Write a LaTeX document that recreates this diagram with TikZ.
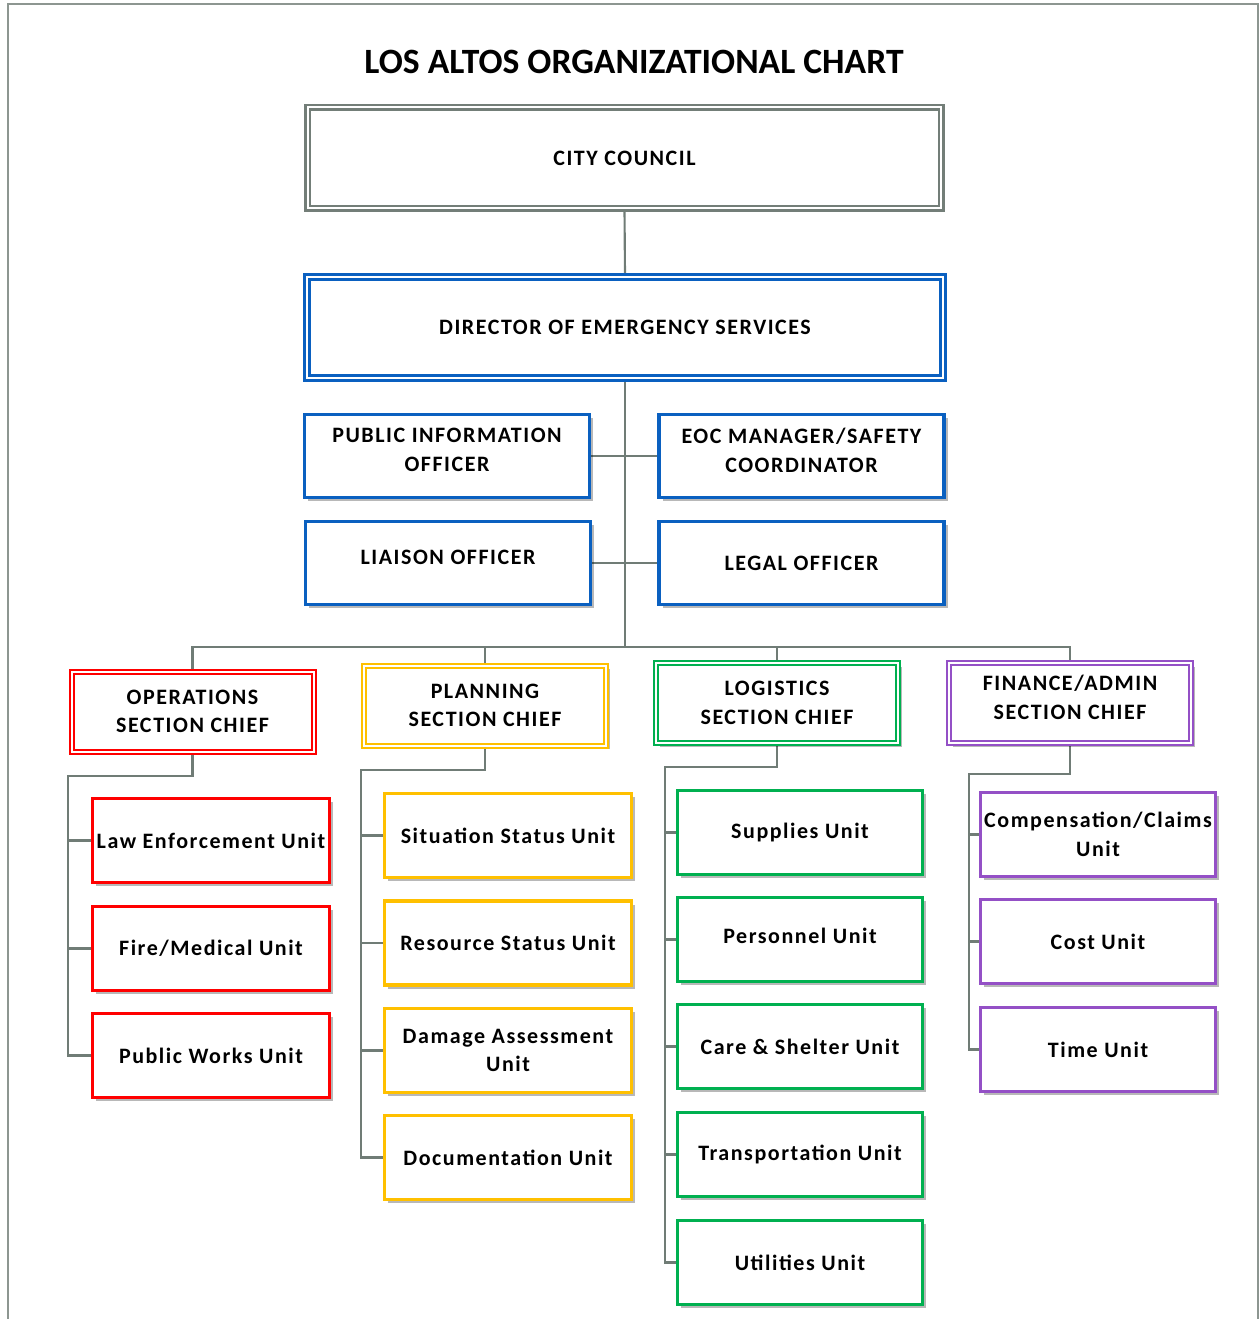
\documentclass[tikz,border=0pt]{standalone}
\usepackage{fontspec}
\setmainfont{Carlito}
\newfontfamily\boxfont{Carlito}[LetterSpace=7]
\usetikzlibrary{shadows,backgrounds}
\definecolor{connc}{RGB}{112,124,118}
\definecolor{ccgray}{RGB}{115,126,120}
\definecolor{bluebox}{RGB}{10,96,192}
\definecolor{redbox}{RGB}{255,0,0}
\definecolor{goldbox}{RGB}{255,192,0}
\definecolor{greenbox}{RGB}{0,176,80}
\definecolor{purplebox}{RGB}{148,80,198}
\tikzset{
  base/.style={draw, fill=white, align=center, inner sep=0pt,
    font=\boxfont\bfseries\fontsize{16.5}{21.5}\selectfont,
    drop shadow={shadow xshift=2.8pt, shadow yshift=-2.8pt, fill=black, opacity=0.28}},
  topbox/.style={base, double=white, line width=1.9pt, double distance=1.5pt,
    minimum width=475pt, minimum height=75.75pt},
  staffbox/.style={base, draw=bluebox, line width=2.4pt, minimum width=213.75pt, minimum height=62.25pt},
  chiefbox/.style={base, double=white, line width=1.5pt, double distance=1.5pt,
    minimum width=181.5pt, minimum height=60pt},
  unitbox/.style={base, line width=2.4pt, minimum height=63pt},
  opsunit/.style={unitbox, draw=redbox, minimum width=177.75pt},
  planunit/.style={unitbox, draw=goldbox, minimum width=185.25pt},
  logunit/.style={unitbox, draw=greenbox, minimum width=183.75pt},
  finunit/.style={unitbox, draw=purplebox, minimum width=176.25pt},
  conn/.style={draw=connc, line width=1.6pt},
  framel/.style={draw=connc!80, line width=1.2pt}
}
\begin{document}
\begin{tikzpicture}[x=0.75pt,y=-0.75pt]
\useasboundingbox (0,0) rectangle (1259,1319);
\draw[framel] (8,1319) -- (8,4) -- (1258,4) -- (1258,1319);

\node[font=\bfseries\fontsize{26.7}{30}\selectfont] (title) at (634,62) {LOS ALTOS ORGANIZATIONAL CHART};

\node[topbox, draw=ccgray] (cc) at (624.5,158) {CITY COUNCIL};
\node[topbox, draw=bluebox, minimum width=477pt] (dir) at (625,327.5) {DIRECTOR OF EMERGENCY SERVICES};

\node[staffbox, text depth=9pt] (pio) at (447,456) {PUBLIC INFORMATION\\OFFICER};
\node[staffbox, text depth=9pt] (eoc) at (801.5,456) {EOC MANAGER/SAFETY\\COORDINATOR};
\node[staffbox, text depth=9pt] (lia) at (448,563) {LIAISON OFFICER};
\node[staffbox] (legal) at (801.5,563) {LEGAL OFFICER};

\node[chiefbox, draw=redbox] (ops) at (192.5,711.5) {OPERATIONS\\SECTION CHIEF};
\node[chiefbox, draw=goldbox] (plan) at (485,705.5) {PLANNING\\SECTION CHIEF};
\node[chiefbox, draw=greenbox] (log) at (777,703) {LOGISTICS\\SECTION CHIEF};
\node[chiefbox, draw=purplebox, text depth=9pt] (fin) at (1070,703) {FINANCE/ADMIN\\SECTION CHIEF};

\node[opsunit] (law) at (211,840.5) {Law Enforcement Unit};
\node[opsunit] (fire) at (211,948.5) {Fire/Medical Unit};
\node[opsunit] (pw) at (211,1055.5) {Public Works Unit};

\node[planunit] (sit) at (508,835.5) {Situation Status Unit};
\node[planunit] (res) at (508,943) {Resource Status Unit};
\node[planunit] (dam) at (508,1050.5) {Damage Assessment\\Unit};
\node[planunit] (doc) at (508,1157.5) {Documentation Unit};

\node[logunit] (sup) at (800,832.5) {Supplies Unit};
\node[logunit, text depth=6pt] (per) at (800,939.5) {Personnel Unit};
\node[logunit] (care) at (800,1046.5) {Care \& Shelter Unit};
\node[logunit] (trans) at (800,1154.5) {Transportation Unit};
\node[logunit] (util) at (800,1262.5) {Utilities Unit};

\node[finunit] (comp) at (1098,834.5) {Compensation/Claims\\Unit};
\node[finunit] (cost) at (1098,941.5) {Cost Unit};
\node[finunit] (time) at (1098,1049.5) {Time Unit};

\coordinate (bus) at (625,647);
\coordinate (opsx) at (68,776);
\coordinate (planx) at (361,770);
\coordinate (logx) at (665,767);
\coordinate (finx) at (969,774);

\begin{pgfonlayer}{background}
\draw[conn] (cc.south) -- (dir.north);
\draw[conn] (dir.south) -- (bus);
\draw[conn] (pio.east) -- (eoc.west);
\draw[conn] (lia.east) -- (legal.west);
\draw[conn] (ops.north) -- (ops.north |- bus) -- (fin.north |- bus) -- (fin.north);
\draw[conn] (plan.north) -- (plan.north |- bus);
\draw[conn] (log.north) -- (log.north |- bus);

\draw[conn] (ops.south) |- (opsx) |- (pw.west);
\draw[conn] (opsx |- law.west) -- (law.west);
\draw[conn] (opsx |- fire.west) -- (fire.west);

\draw[conn] (plan.south) |- (planx) |- (doc.west);
\draw[conn] (planx |- sit.west) -- (sit.west);
\draw[conn] (planx |- res.west) -- (res.west);
\draw[conn] (planx |- dam.west) -- (dam.west);

\draw[conn] (log.south) |- (logx) |- (util.west);
\draw[conn] (logx |- sup.west) -- (sup.west);
\draw[conn] (logx |- per.west) -- (per.west);
\draw[conn] (logx |- care.west) -- (care.west);
\draw[conn] (logx |- trans.west) -- (trans.west);

\draw[conn] (fin.south) |- (finx) |- (time.west);
\draw[conn] (finx |- comp.west) -- (comp.west);
\draw[conn] (finx |- cost.west) -- (cost.west);
\end{pgfonlayer}
\end{tikzpicture}
\end{document}
